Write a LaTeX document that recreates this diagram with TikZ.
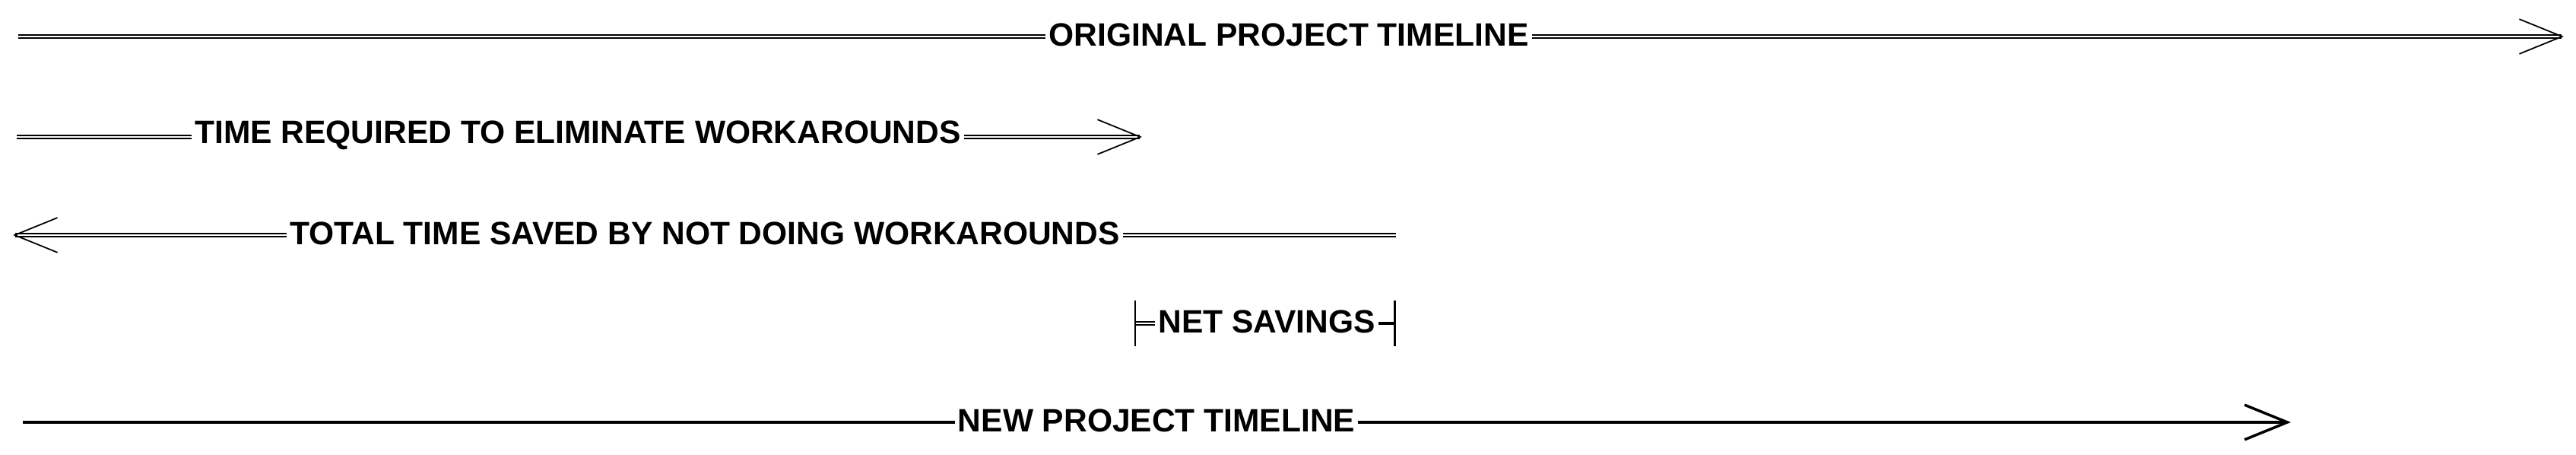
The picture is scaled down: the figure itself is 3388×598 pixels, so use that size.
\documentclass[tikz,border=0pt]{standalone}
\usepackage{fontspec}
\setmainfont{Liberation Sans}
\usetikzlibrary{arrows.meta}
\tikzset{
  lbl/.style={inner sep=1pt, font=\fontsize{12.1}{13}\selectfont\bfseries},
  rough/.style={line width=0.5pt, double, double distance=0.8pt},
  plain/.style={line width=1pt},
  barb/.style={-{Straight Barb[length=16pt,width=13pt]}},
  lbarb/.style={{Straight Barb[length=16pt,width=13pt]}-},
}
\begin{document}
\begin{tikzpicture}[x=0.1mm, y=-0.1mm]
	\useasboundingbox (0,0) rectangle (3388,598);
	
	\node[lbl] (orig) at (1695,46) {ORIGINAL PROJECT TIMELINE};
	\coordinate (o0) at (24,48);
	\coordinate (o1) at (3372,48);
	\draw[rough] (o0) -- (orig.west |- o0);
	\draw[rough, barb] (orig.east |- o1) -- (o1);
	
	\node[lbl] (req) at (760,178) {TIME REQUIRED TO ELIMINATE WORKAROUNDS};
	\coordinate (r0) at (22,180);
	\coordinate (r1) at (1502,180);
	\draw[rough] (r0) -- (req.west |- r0);
	\draw[rough, barb] (req.east |- r1) -- (r1);
	
	\node[lbl] (saved) at (927,307) {TOTAL TIME SAVED BY NOT DOING WORKAROUNDS};
	\coordinate (s0) at (17,309);
	\coordinate (s1) at (1836,309);
	\draw[rough, lbarb] (s0) -- (saved.west |- s0);
	\draw[rough] (saved.east |- s1) -- (s1);
	
	\node[lbl] (net) at (1666,423) {NET SAVINGS};
	\coordinate (n0) at (1492,425);
	\coordinate (n1) at (1836,425);
	\draw[rough, {Bar[width=17pt]}-] (n0) -- (net.west |- n0);
	\draw[plain, -{Bar[width=17pt]}] (net.east |- n1) -- (n1);
	
	\node[lbl] (new) at (1521,553) {NEW PROJECT TIMELINE};
	\coordinate (w0) at (30,555);
	\coordinate (w1) at (3013,555);
	\draw[plain] (w0) -- (new.west |- w0);
	\draw[plain, barb] (new.east |- w1) -- (w1);
\end{tikzpicture}
\end{document}
